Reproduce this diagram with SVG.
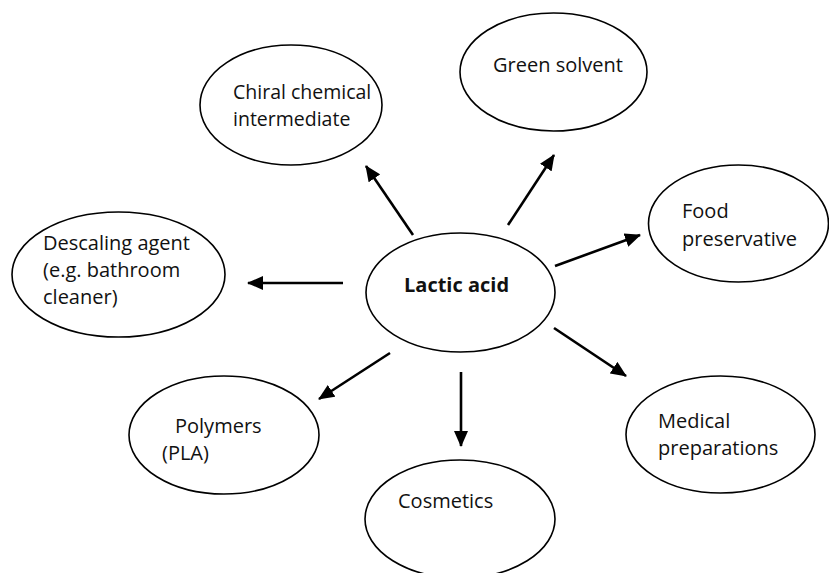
<svg xmlns="http://www.w3.org/2000/svg" width="829" height="573" viewBox="0 0 829 573">
<style>
.node ellipse{fill:#fff;stroke:#000;stroke-width:1.6}
.node text{font-family:"Open Sans","Liberation Sans",sans-serif;font-size:20px;fill:#111}
.node text.bold{font-weight:bold;font-size:20px}
.node text.sm{font-size:19.5px}
.conn line{stroke:#000;stroke-width:2.6;marker-end:url(#ah)}
</style>
<defs>
<marker id="ah" markerUnits="userSpaceOnUse" viewBox="0 0 16 14" markerWidth="16" markerHeight="14" refX="15" refY="7" orient="auto">
<path d="M0,0 L16,7 L0,14 Z" fill="#000"/>
</marker>
</defs>
<g id="n-lactic" class="node"><ellipse cx="460.5" cy="292.5" rx="94.5" ry="59.5"/><text class="bold" x="404" y="292">Lactic acid</text></g>
<g id="n-chiral" class="node"><ellipse cx="291" cy="105" rx="91" ry="60"/><text class="sm" x="233" y="99">Chiral chemical</text><text class="sm" x="233" y="126">intermediate</text></g>
<g id="n-green" class="node"><ellipse cx="553.5" cy="72" rx="93.5" ry="59"/><text x="493" y="72">Green solvent</text></g>
<g id="n-food" class="node"><ellipse cx="738.5" cy="223.5" rx="90" ry="58.5"/><text x="682" y="218">Food</text><text x="682" y="246">preservative</text></g>
<g id="n-descaling" class="node"><ellipse cx="118.5" cy="274.5" rx="106.5" ry="62.5"/><text x="43" y="250">Descaling agent</text><text x="43" y="277">(e.g. bathroom</text><text x="43" y="304">cleaner)</text></g>
<g id="n-polymers" class="node"><ellipse cx="224" cy="435" rx="95" ry="59"/><text x="175" y="433">Polymers</text><text x="162" y="460">(PLA)</text></g>
<g id="n-cosmetics" class="node"><ellipse cx="460" cy="519" rx="95" ry="59"/><text x="398" y="508">Cosmetics</text></g>
<g id="n-medical" class="node"><ellipse cx="720.5" cy="434.5" rx="94.5" ry="58.5"/><text x="658" y="428">Medical</text><text x="658" y="455">preparations</text></g>
<g id="connectors" class="conn">
<line x1="413" y1="235" x2="366" y2="166"/>
<line x1="508" y1="225" x2="554" y2="155"/>
<line x1="555" y1="266" x2="640" y2="235"/>
<line x1="343" y1="283" x2="248" y2="283"/>
<line x1="390" y1="353" x2="319" y2="399"/>
<line x1="461" y1="372" x2="461" y2="446"/>
<line x1="554" y1="328" x2="626" y2="376"/>
</g>
</svg>
